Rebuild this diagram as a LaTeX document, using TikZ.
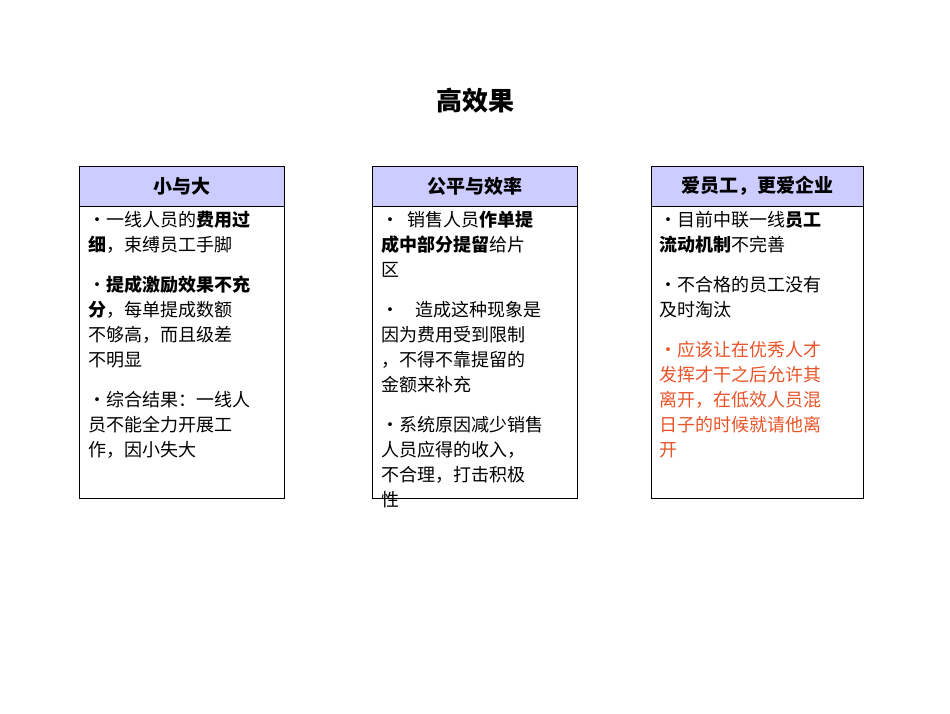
\documentclass[tikz,border=0pt]{standalone}
\usepackage{fontspec}
\setmainfont{Noto Sans CJK SC}
\usetikzlibrary{positioning}
\definecolor{headfill}{RGB}{204,204,255}
\definecolor{redtext}{RGB}{232,84,40}
\tikzset{
  head/.style={draw, fill=headfill, minimum width=205pt, minimum height=40pt, font=\fontsize{19}{22}\selectfont\bfseries, inner sep=0pt},
  body/.style={draw, minimum width=205pt, minimum height=292pt, anchor=north, inner sep=0pt},
  txt/.style={anchor=north west, align=left, font=\fontsize{18}{25}\selectfont, inner sep=0pt}
}
\begin{document}
\begin{tikzpicture}[x=1pt,y=-1pt]
\useasboundingbox (0,0) rectangle (950,713);
\node[font=\fontsize{26}{30}\selectfont\bfseries] (title) at (475,101) {高效果};

% boxes
\node[head] (h1) at (182,186) {小与大};
\node[body, below=0pt of h1] (b1) {};
\node[head] (h2) at (475,186) {公平与效率};
\node[body, below=0pt of h2] (b2) {};
\node[head, minimum width=212pt] (h3) at (757,186) {爱员工，更爱企业};
\node[body, minimum width=212pt, below=0pt of h3] (b3) {};

% texts
\node[txt] (t1) at (88,211) {•一线人员的\textbf{费用过}\\\textbf{细}，束缚员工手脚\\[15pt]
•\textbf{提成激励效果不充}\\\textbf{分}，每单提成数额\\不够高，而且级差\\不明显\\[15pt]
•综合结果：一线人\\员不能全力开展工\\作，因小失大};
\node[txt] (t2) at (381,211) {•\ \ 销售人员\textbf{作单提}\\\textbf{成中部分提留}给片\\区\\[15pt]
•\ \ \ \ 造成这种现象是\\因为费用受到限制\\，不得不靠提留的\\金额来补充\\[15pt]
•系统原因减少销售\\人员应得的收入，\\不合理，打击积极\\性};
\node[txt] (t3) at (659,211) {•目前中联一线\textbf{员工}\\\textbf{流动机制}不完善\\[15pt]
•不合格的员工没有\\及时淘汰\\[15pt]
\textcolor{redtext}{•应该让在优秀人才}\\\textcolor{redtext}{发挥才干之后允许其}\\\textcolor{redtext}{离开，在低效人员混}\\\textcolor{redtext}{日子的时候就请他离}\\\textcolor{redtext}{开}};
\end{tikzpicture}
\end{document}
